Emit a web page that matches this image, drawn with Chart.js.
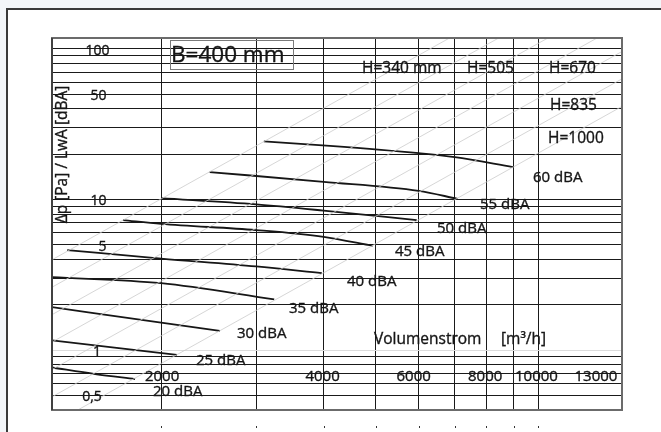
<!DOCTYPE html>
<html><head><meta charset="utf-8">
<script src="https://cdn.jsdelivr.net/npm/chart.js@4/dist/chart.umd.min.js"></script>
<style>html,body{margin:0;padding:0;background:#fff;} canvas{display:block;}</style>
</head><body>
<canvas id="c" width="661" height="432"></canvas>
<script>
// ---- data ----
const xGrid = [2000, 3000, 4000, 5000, 6000, 7000, 8000, 9000, 10000];
const yGrid = [0.5, 0.6, 0.7, 0.8, 0.9, 1, 2, 3, 4, 5, 6, 7, 8, 9, 10, 20, 30, 40, 50, 60, 70, 80, 90, 100];
const xTickValues = [2000, 4000, 6000, 8000, 10000, 13000];
const xTickText = ['2000', '4000', '6000', '8000', '10000', '13000'];
const yTickValues = [100, 50, 10, 5, 1, 0.5];
const yTickText = ['100', '50', '10', '5', '1', '0,5'];
const hLabels = ['H=340 mm', 'H=505', 'H=670', 'H=835', 'H=1000'];
const dbaLabels = ['60 dBA', '55 dBA', '50 dBA', '45 dBA', '40 dBA', '35 dBA', '30 dBA', '25 dBA', '20 dBA'];

// sound level curves: volume flow [m3/h] vs pressure drop [Pa]
const c60x = [3100, 4110, 6000, 7000, 8970];  const c60y = [24.3, 22.7, 20.3, 19.1, 16.4];
const c55x = [2460, 4000, 6000, 7080];        const c55y = [15.2, 13.1, 11.4, 10.1];
const c50x = [2000, 3000, 4000, 5950];        const c50y = [10.2, 9.27, 8.43, 7.29];
const c45x = [1700, 2000, 3000, 4000, 4930];  const c45y = [7.29, 6.88, 6.26, 5.65, 4.92];
const c40x = [1340, 2000, 3000, 3970];        const c40y = [4.61, 4.05, 3.59, 3.24];
const c35x = [1256, 2000, 3240];              const c35y = [3.05, 2.78, 2.17];
const c30x = [1256, 2000, 2570];              const c30y = [1.93, 1.52, 1.34];
const c25x = [1256, 2140];                    const c25y = [1.16, 0.93];
const c20x = [1256, 1510, 1790];              const c20y = [0.766, 0.693, 0.642];

// faint system lines (dp ~ V^2), given by two points each
const diagX  = [1000, 20000];
const diag1y = [2.52, 1008];
const diag2y = [1.657, 662.8];
const diag3y = [1.089, 435.6];
const diag4y = [0.716, 286.4];
const diag5y = [0.471, 188.4];
const diag6y = [0.310, 124.0];
const diag7y = [0.2035, 81.4];

// ---- build ----
const pts = (xs, ys) => xs.map((x, i) => ({x: x, y: ys[i]}));
const INK = '#161616';
const curves = [[c60x,c60y],[c55x,c55y],[c50x,c50y],[c45x,c45y],[c40x,c40y],[c35x,c35y],[c30x,c30y],[c25x,c25y],[c20x,c20y]];
const diags = [diag1y, diag2y, diag3y, diag4y, diag5y, diag6y, diag7y];
const datasets = [];
diags.forEach(d => datasets.push({data: pts(diagX, d), borderColor: '#cbcbcb', borderWidth: 0.8, pointRadius: 0, tension: 0}));
curves.forEach(c => datasets.push({data: pts(c[0], c[1]), borderColor: '#161616', borderWidth: 1.8, pointRadius: 0, tension: 0.3, cubicInterpolationMode: 'monotone'}));

const FONT = '"Open Sans", "DejaVu Sans", sans-serif';
function txt(ctx, s, x, y, size, align) {
  ctx.font = size + 'px ' + FONT;
  ctx.textAlign = align || 'left';
  ctx.textBaseline = 'middle';
  ctx.fillStyle = INK;
  ctx.strokeStyle = INK;
  ctx.lineWidth = 0.35;
  ctx.fillText(s, x, y);
  ctx.strokeText(s, x, y);
}

const decor = {
  id: 'decor',
  beforeDraw(chart) {
    const ctx = chart.ctx;
    ctx.save();
    ctx.fillStyle = '#fff';
    ctx.fillRect(0, 0, chart.width, chart.height);
    ctx.fillStyle = '#f3f6f9';
    ctx.fillRect(0, 0, chart.width, 8);
    ctx.fillRect(0, 0, 6, chart.height);
    ctx.strokeStyle = '#3a3a3a';
    ctx.lineWidth = 2;
    ctx.beginPath();
    ctx.moveTo(7, chart.height);
    ctx.lineTo(7, 9);
    ctx.lineTo(chart.width, 9);
    ctx.stroke();
    ctx.restore();
  },
  afterDraw(chart) {
    const ctx = chart.ctx, a = chart.chartArea;
    const xs = chart.scales.x, ys = chart.scales.y;
    ctx.save();
    // plot frame
    ctx.strokeStyle = '#6b6b6b';
    ctx.lineWidth = 2;
    ctx.strokeRect(a.left, a.top, a.right - a.left, a.bottom - a.top);
    ctx.strokeStyle = '#333';
    ctx.lineWidth = 1.5;
    ctx.beginPath(); ctx.moveTo(a.left, a.top); ctx.lineTo(a.left, a.bottom); ctx.stroke();
    // little tick marks below the plot
    ctx.fillStyle = '#333';
    xGrid.forEach(v => { const px = Math.round(xs.getPixelForValue(v)); ctx.fillRect(px, 426, 1, 2); });
    // y tick labels inside plot
    const yLabX = [97.5, 98.5, 98.5, 102.5, 97, 92];
    yTickValues.forEach((v, i) => txt(ctx, yTickText[i], yLabX[i], ys.getPixelForValue(v) + 2, 14, 'center'));
    // x tick labels inside plot
    const xdx = [1, -1, -5, -1, -2, -4];
    xTickValues.forEach((v, i) => txt(ctx, xTickText[i], xs.getPixelForValue(v) + xdx[i], 377, 15, 'center'));
    // H labels
    const hPos = [[362, 68.5], [467, 68.5], [549, 68.5], [550, 106], [548, 138.5]];
    hLabels.forEach((s, i) => txt(ctx, s, hPos[i][0], hPos[i][1], 15.5));
    // dBA labels
    const dPos = [[533, 177.5], [480, 204.5], [437, 228.5], [395, 251.5], [347, 281.5], [289, 308.5], [237, 333.5], [196, 360.5], [153, 391.5]];
    dbaLabels.forEach((s, i) => txt(ctx, s, dPos[i][0], dPos[i][1], 15));
    // axis texts
    txt(ctx, 'Volumenstrom', 374, 340, 15.5);
    txt(ctx, '[m³/h]', 501, 340, 15.5);
    ctx.save();
    ctx.translate(62.5, 154.5);
    ctx.rotate(-Math.PI / 2);
    txt(ctx, 'Δp [Pa] / LwA [dBA]', 0, 0, 15.5, 'center');
    ctx.restore();
    // B box
    ctx.strokeStyle = '#7a7a7a';
    ctx.lineWidth = 1;
    ctx.strokeRect(170.5, 40.5, 123, 29);
    txt(ctx, 'B=400 mm', 171, 56, 22.5);
    ctx.restore();
  }
};

new Chart(document.getElementById('c'), {
  type: 'line',
  data: {datasets: datasets},
  options: {
    responsive: false,
    devicePixelRatio: 1,
    animation: false,
    layout: {padding: {left: 52, top: 38, right: 39, bottom: 22}},
    plugins: {legend: {display: false}, tooltip: {enabled: false}, title: {display: false}},
    scales: {
      x: {
        type: 'logarithmic', min: 1256, max: 14280,
        afterBuildTicks: s => { s.ticks = xGrid.map(v => ({value: v})); },
        ticks: {display: false},
        border: {display: false},
        grid: {color: '#1a1a1a', lineWidth: 1, drawTicks: false}
      },
      y: {
        type: 'logarithmic', min: 0.4, max: 118,
        afterBuildTicks: s => { s.ticks = yGrid.map(v => ({value: v})); },
        ticks: {display: false},
        border: {display: false},
        grid: {color: c => (c.tick && c.tick.value === 1) ? '#dcdcdc' : '#1a1a1a', lineWidth: 1, drawTicks: false}
      }
    }
  },
  plugins: [decor]
});
</script>
</body></html>
